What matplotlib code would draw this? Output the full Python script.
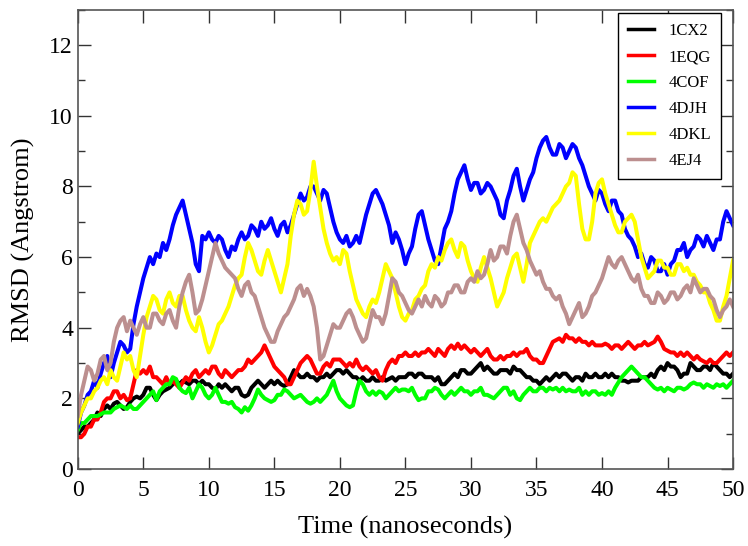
import numpy as np
import matplotlib
matplotlib.use("Agg")
import matplotlib.pyplot as plt
from matplotlib.ticker import MultipleLocator

plt.rcParams['font.family'] = ['Liberation Serif', 'DejaVu Serif']

# time axis, one sample every 0.25 ns
time_ns = np.arange(201) * 0.25

rmsd_1cx2 = [
    1.0, 1.1, 1.2, 1.2, 1.3, 1.4, 1.6, 1.5, 1.7, 1.8, 1.7, 1.85, 1.9, 1.8, 1.7, 1.75, 1.9, 2.0, 2.05, 2.0,
    2.1, 2.3, 2.3, 2.1, 1.95, 2.1, 2.2, 2.25, 2.3, 2.4, 2.5, 2.4, 2.5, 2.45, 2.4, 2.5, 2.5, 2.4, 2.5, 2.4,
    2.4, 2.3, 2.25, 2.4, 2.3, 2.4, 2.3, 2.2, 2.3, 2.3, 2.1, 2.05, 2.1, 2.3, 2.4, 2.5, 2.4, 2.3, 2.4, 2.5,
    2.4, 2.5, 2.4, 2.35, 2.4, 2.6, 2.8, 2.7, 2.6, 2.6, 2.7, 2.6, 2.6, 2.5, 2.6, 2.6, 2.7, 2.6, 2.7, 2.8,
    2.8, 2.7, 2.8, 2.7, 2.6, 2.6, 2.5, 2.6, 2.5, 2.5, 2.6, 2.5, 2.5, 2.6, 2.5, 2.55, 2.6, 2.5, 2.6, 2.6,
    2.6, 2.7, 2.7, 2.6, 2.7, 2.7, 2.6, 2.6, 2.6, 2.5, 2.6, 2.4, 2.4, 2.5, 2.6, 2.7, 2.6, 2.8, 2.8, 2.7,
    2.7, 2.8, 2.9, 3.0, 2.8, 2.9, 2.8, 2.7, 2.7, 2.8, 2.8, 2.8, 2.7, 2.9, 2.8, 2.8, 2.7, 2.6, 2.6, 2.5,
    2.5, 2.4, 2.5, 2.6, 2.5, 2.6, 2.7, 2.6, 2.7, 2.7, 2.6, 2.5, 2.6, 2.6, 2.5, 2.7, 2.6, 2.6, 2.7, 2.6,
    2.6, 2.7, 2.6, 2.7, 2.6, 2.6, 2.5, 2.5, 2.45, 2.5, 2.5, 2.5, 2.6, 2.6, 2.6, 2.7, 2.6, 2.8, 2.9, 2.8,
    3.0, 2.9, 2.9, 2.8, 2.6, 2.7, 2.7, 3.0, 2.9, 2.8, 2.8, 2.9, 2.9, 2.8, 3.0, 2.9, 2.8, 2.7, 2.7, 2.6,
    2.7,
]

rmsd_1eqg = [
    0.9, 0.9, 1.0, 1.2, 1.2, 1.4, 1.4, 1.6, 1.9, 2.0, 2.0, 2.2, 2.2, 2.0, 2.1, 1.95, 2.0, 2.4, 2.8, 2.7,
    2.8, 2.7, 2.9, 2.6, 2.6, 2.5, 2.4, 2.6, 2.4, 2.5, 2.4, 2.3, 2.45, 2.6, 2.5, 2.7, 2.8, 2.6, 2.7, 2.8,
    2.7, 2.9, 2.9, 2.7, 2.6, 2.8, 2.7, 2.6, 2.7, 2.8, 2.8, 2.9, 3.1, 3.0, 3.1, 3.2, 3.3, 3.5, 3.3, 3.1,
    2.9, 2.8, 2.7, 2.6, 2.4, 2.4, 2.6, 2.8, 3.0, 3.1, 3.2, 3.1, 2.9, 2.7, 2.7, 2.9, 3.0, 2.9, 3.1, 3.1,
    3.1, 3.0, 2.9, 3.0, 2.9, 3.1, 2.9, 2.8, 2.9, 2.8, 2.7, 2.8, 2.6, 2.5, 2.8, 3.0, 3.1, 3.0, 3.2, 3.2,
    3.3, 3.2, 3.2, 3.3, 3.2, 3.3, 3.3, 3.4, 3.3, 3.2, 3.4, 3.3, 3.2, 3.4, 3.5, 3.4, 3.55, 3.4, 3.5, 3.4,
    3.3, 3.4, 3.3, 3.2, 3.3, 3.4, 3.2, 3.1, 3.1, 3.2, 3.1, 3.2, 3.2, 3.3, 3.2, 3.3, 3.3, 3.4, 3.2, 3.1,
    3.1, 3.0, 3.0, 3.2, 3.4, 3.6, 3.65, 3.7, 3.6, 3.8, 3.7, 3.7, 3.6, 3.7, 3.6, 3.6, 3.5, 3.6, 3.5, 3.5,
    3.5, 3.55, 3.5, 3.4, 3.5, 3.5, 3.4, 3.5, 3.6, 3.5, 3.4, 3.5, 3.5, 3.6, 3.5, 3.55, 3.6, 3.75, 3.6, 3.4,
    3.35, 3.3, 3.3, 3.2, 3.3, 3.2, 3.3, 3.2, 3.1, 3.2, 3.1, 3.05, 3.0, 3.1, 3.0, 3.0, 3.1, 3.2, 3.3, 3.2,
    3.3,
]

rmsd_4cof = [
    1.1, 1.3, 1.3, 1.4, 1.5, 1.5, 1.5, 1.55, 1.6, 1.6, 1.6, 1.7, 1.75, 1.8, 1.75, 1.7, 1.8, 1.7, 1.7, 1.8,
    1.9, 2.0, 2.1, 2.2, 1.95, 2.2, 2.3, 2.4, 2.4, 2.6, 2.55, 2.3, 2.2, 2.15, 2.3, 2.0, 2.2, 2.4, 2.3, 2.1,
    2.0, 2.1, 2.3, 2.1, 1.9, 1.9, 1.85, 1.9, 1.75, 1.7, 1.6, 1.75, 1.65, 1.8, 2.0, 2.25, 2.1, 2.0, 1.95, 1.9,
    1.95, 2.1, 2.1, 2.25, 2.2, 2.1, 2.0, 2.05, 2.1, 2.0, 1.9, 1.85, 1.9, 2.0, 1.9, 2.0, 2.1, 2.3, 2.5, 2.2,
    2.0, 1.9, 1.8, 1.75, 1.8, 2.2, 2.5, 2.4, 2.2, 2.1, 2.2, 2.1, 2.2, 2.15, 2.0, 2.1, 2.2, 2.3, 2.2, 2.25,
    2.25, 2.2, 2.3, 2.1, 1.95, 2.0, 2.0, 2.2, 2.2, 2.3, 2.25, 2.1, 2.0, 2.1, 2.2, 2.1, 2.2, 2.3, 2.2, 2.2,
    2.1, 2.2, 2.2, 2.3, 2.1, 2.1, 2.05, 2.0, 2.1, 2.2, 2.3, 2.3, 2.1, 2.2, 2.0, 1.95, 2.1, 2.2, 2.3, 2.2,
    2.2, 2.3, 2.3, 2.2, 2.3, 2.25, 2.3, 2.2, 2.3, 2.2, 2.25, 2.2, 2.2, 2.3, 2.1, 2.2, 2.1, 2.2, 2.2, 2.1,
    2.15, 2.1, 2.2, 2.1, 2.3, 2.45, 2.6, 2.7, 2.8, 2.9, 2.8, 2.7, 2.6, 2.6, 2.5, 2.4, 2.3, 2.25, 2.3, 2.2,
    2.3, 2.25, 2.2, 2.3, 2.3, 2.25, 2.3, 2.4, 2.45, 2.4, 2.4, 2.3, 2.4, 2.35, 2.3, 2.4, 2.35, 2.4, 2.3, 2.4,
    2.5,
]

rmsd_4djh = [
    1.2, 1.6, 1.8, 2.1, 2.2, 2.5, 2.3, 2.7, 3.0, 3.2, 2.6, 3.0, 3.3, 3.6, 3.5, 3.3, 3.4, 4.1, 4.6, 5.0,
    5.4, 5.7, 6.0, 5.8, 6.1, 6.0, 6.4, 6.2, 6.5, 6.9, 7.2, 7.4, 7.6, 7.2, 6.8, 6.4, 5.8, 5.6, 6.6, 6.5,
    6.7, 6.5, 6.4, 6.6, 6.5, 6.2, 6.0, 6.3, 6.2, 6.5, 6.7, 6.5, 6.6, 6.9, 6.8, 6.6, 7.0, 6.8, 6.9, 7.1,
    6.8, 6.6, 6.9, 7.0, 6.7, 6.9, 7.2, 7.5, 7.8, 7.6, 7.7, 8.0, 8.0, 7.8, 7.6, 7.9, 7.8, 7.4, 7.0, 6.7,
    6.5, 6.4, 6.6, 6.3, 6.4, 6.6, 6.4, 6.8, 7.2, 7.5, 7.8, 7.9, 7.7, 7.5, 7.2, 6.9, 6.4, 6.7, 6.5, 6.2,
    5.8, 6.1, 6.3, 6.8, 7.2, 7.3, 6.9, 6.5, 6.2, 5.9, 5.8, 6.3, 6.8, 7.0, 7.3, 7.8, 8.2, 8.4, 8.6, 8.2,
    7.9, 8.1, 8.1, 7.8, 7.9, 8.1, 8.0, 7.8, 7.6, 7.2, 7.1, 7.6, 7.9, 8.3, 8.5, 8.0, 7.6, 7.9, 8.2, 8.4,
    8.8, 9.1, 9.3, 9.4, 9.1, 8.9, 8.9, 9.2, 9.1, 8.8, 9.0, 9.2, 9.1, 8.8, 8.6, 8.3, 8.0, 7.8, 7.6, 7.9,
    7.8, 7.5, 7.3, 7.6, 7.6, 7.3, 7.2, 6.8, 6.6, 6.5, 6.3, 6.0, 6.1, 5.8, 5.7, 6.0, 5.9, 5.6, 5.6, 5.8,
    5.5, 5.8, 5.9, 6.2, 6.2, 6.4, 6.0, 6.2, 6.3, 6.6, 6.5, 6.3, 6.6, 6.4, 6.2, 6.5, 6.5, 7.0, 7.3, 7.1,
    6.9,
]

rmsd_4dkl = [
    1.3, 1.6, 1.8, 2.0, 2.0, 2.2, 2.3, 2.5, 2.6, 2.4, 2.8, 2.6, 2.5, 2.9, 3.3, 3.1, 3.2, 2.8, 2.6, 3.2,
    3.8, 4.3, 4.6, 4.9, 4.8, 4.5, 4.4, 4.8, 5.0, 4.7, 4.6, 4.9, 4.9, 4.5, 4.2, 4.0, 3.9, 4.3, 4.0, 3.6,
    3.3, 3.5, 3.8, 4.1, 4.2, 4.4, 4.6, 4.9, 5.2, 5.4, 5.5, 6.0, 6.4, 6.2, 5.9, 5.6, 5.5, 5.9, 6.2, 5.9,
    5.6, 5.3, 5.0, 5.4, 5.8, 6.6, 7.2, 7.6, 7.5, 7.2, 7.3, 7.9, 8.7, 8.0, 7.4, 6.8, 6.4, 6.1, 5.9, 6.0,
    5.8, 6.2, 6.1, 5.6, 5.2, 4.8, 4.6, 4.4, 4.3, 4.6, 4.8, 4.7, 5.0, 5.4, 5.8, 5.6, 5.4, 5.0, 4.6, 4.3,
    4.2, 4.4, 4.5, 4.8, 4.9, 5.1, 5.2, 5.6, 5.8, 5.7, 6.0, 5.9, 6.2, 6.4, 6.5, 6.2, 6.0, 6.4, 6.3, 5.9,
    5.6, 5.4, 5.3, 5.7, 6.0, 5.7, 5.4, 5.0, 4.6, 4.8, 5.0, 5.4, 5.7, 6.0, 6.1, 5.7, 5.3, 5.8, 6.4, 6.6,
    6.8, 7.0, 7.1, 7.0, 7.2, 7.4, 7.5, 7.6, 7.8, 8.0, 8.1, 8.4, 8.3, 7.5, 6.8, 6.5, 6.5, 7.0, 7.8, 8.1,
    8.2, 7.8, 7.5, 7.2, 6.9, 6.7, 6.7, 7.0, 7.1, 7.2, 7.0, 6.5, 6.0, 5.7, 5.4, 5.5, 5.6, 5.9, 5.9, 5.7,
    5.7, 5.5, 5.5, 5.8, 5.8, 5.6, 5.7, 5.5, 5.5, 5.3, 5.2, 5.0, 5.0, 4.7, 4.5, 4.2, 4.2, 4.6, 4.9, 5.4,
    5.9,
]

rmsd_4ej4 = [
    1.5, 2.1, 2.5, 2.9, 2.8, 2.5, 2.7, 3.1, 3.2, 2.8, 3.0, 3.6, 4.0, 4.2, 4.3, 3.9, 4.2, 4.0, 3.8, 4.1,
    4.3, 4.0, 4.0, 4.4, 4.4, 4.2, 4.1, 4.4, 4.5, 4.2, 4.0, 4.6, 5.0, 5.3, 5.5, 5.0, 4.4, 4.5, 4.8, 5.2,
    5.6, 6.0, 6.4, 6.1, 5.9, 5.7, 5.6, 5.5, 5.4, 5.1, 4.9, 5.2, 5.3, 5.0, 4.9, 4.6, 4.3, 4.0, 3.8, 3.6,
    3.6, 3.9, 4.1, 4.3, 4.4, 4.6, 4.8, 5.1, 5.2, 4.9, 5.1, 4.9, 4.6, 4.0, 3.1, 3.2, 3.5, 3.8, 4.1, 4.0,
    4.0, 4.2, 4.4, 4.5, 4.3, 4.0, 3.8, 3.6, 3.7, 4.1, 4.5, 4.3, 4.3, 4.1, 4.4, 4.9, 5.4, 5.3, 5.0, 4.9,
    4.7, 4.5, 4.4, 4.6, 4.8, 4.6, 4.9, 4.7, 4.6, 4.9, 4.8, 4.6, 4.7, 5.0, 5.0, 5.2, 5.2, 5.0, 5.0, 5.3,
    5.4, 5.3, 5.6, 5.4, 5.5, 5.8, 6.2, 5.9, 6.0, 6.3, 6.3, 6.1, 6.6, 7.0, 7.2, 6.8, 6.4, 6.2, 5.9, 5.7,
    5.5, 5.6, 5.3, 5.1, 5.1, 4.9, 4.8, 4.9, 4.6, 4.4, 4.1, 4.3, 4.5, 4.7, 4.3, 4.4, 4.6, 4.9, 5.0, 5.2,
    5.4, 5.7, 6.0, 5.8, 5.7, 5.9, 6.0, 5.8, 5.6, 5.4, 5.3, 5.5, 5.1, 4.9, 4.9, 4.7, 4.7, 5.0, 4.9, 4.7,
    4.8, 5.0, 5.0, 4.8, 4.9, 5.1, 5.2, 5.0, 5.4, 5.2, 5.0, 5.1, 5.1, 4.9, 4.8, 4.5, 4.3, 4.5, 4.6, 4.8,
    4.6,
]

labels = ['1CX2', '1EQG', '4COF', '4DJH', '4DKL', '4EJ4']
colors = ['#000000', '#ff0000', '#00ff00', '#0000ff', '#ffff00', '#bc8f8f']
series = [rmsd_1cx2, rmsd_1eqg, rmsd_4cof, rmsd_4djh, rmsd_4dkl, rmsd_4ej4]

fig = plt.figure(figsize=(7.48, 5.46), dpi=100)
ax = fig.add_axes([0.104, 0.141, 0.876, 0.841])

for vals, col, lab in zip(series, colors, labels):
    ax.plot(time_ns, vals, color=col, lw=2.9, label=lab)

ax.set_xlim(0, 50)
ax.set_ylim(0, 13)
ax.xaxis.set_major_locator(MultipleLocator(5))
ax.yaxis.set_major_locator(MultipleLocator(2))
ax.yaxis.set_minor_locator(MultipleLocator(1))
ax.tick_params(which='both', direction='in', top=True, right=True, labelsize=17, labelcolor='black', color='#333333')
ax.tick_params(which='major', length=9, width=1)
ax.tick_params(which='minor', length=5, width=1)
ax.tick_params(axis='x', pad=8)
for s in ax.spines.values():
    s.set_color('#555555')
    s.set_linewidth(1.2)

ax.set_xlabel('Time (nanoseconds)', fontsize=19, labelpad=11)
ax.set_ylabel('RMSD (Angstrom)', fontsize=19, labelpad=10)

leg = ax.legend(loc='upper right', bbox_to_anchor=(0.982, 0.993), borderaxespad=0,
                fontsize=12, frameon=True, fancybox=False, edgecolor='black', framealpha=1,
                handlelength=1.6, labelspacing=0.6, borderpad=0.6, handletextpad=0.85)
leg.get_frame().set_linewidth(1.0)
for lh in leg.get_lines():
    lh.set_linewidth(2.5)

fig.savefig('out.png', dpi=100)
